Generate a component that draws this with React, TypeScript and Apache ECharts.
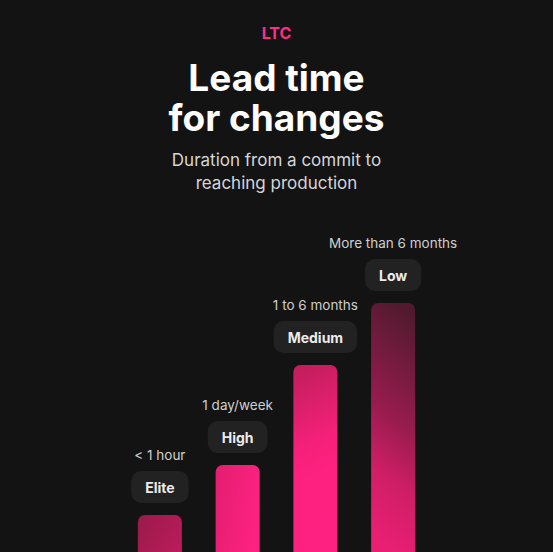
import React, { useEffect, useRef } from 'react';
import * as echarts from 'echarts';

const categories = ['Elite', 'High', 'Medium', 'Low'];
const durations = ['< 1 hour', '1 day/week', '1 to 6 months', 'More than 6 months'];
const values = [77, 127, 227, 289];

const FONT = 'Inter, "Noto Sans", sans-serif';

// per-bar shading, local to each bar's box (the bars run past the bottom edge)
const barShades = [
  new echarts.graphic.LinearGradient(0, 0, 1, 1, [
    { offset: 0, color: '#991a4b' },
    { offset: 0.75, color: '#bd1c5a' },
    { offset: 1, color: '#c41d5e' }
  ]),
  new echarts.graphic.LinearGradient(0, 0, 1, 0.4, [
    { offset: 0, color: '#e21e6f' },
    { offset: 1, color: '#ff2282' }
  ]),
  new echarts.graphic.LinearGradient(0.45, 0, 0.55, 1, [
    { offset: 0, color: '#c41e5e' },
    { offset: 0.33, color: '#f42079' },
    { offset: 0.5, color: '#ff2180' },
    { offset: 1, color: '#ff2182' }
  ]),
  new echarts.graphic.LinearGradient(0.56, 0, 0.44, 1, [
    { offset: 0, color: '#521a2f' },
    { offset: 0.4, color: '#981c4e' },
    { offset: 0.62, color: '#d01e66' },
    { offset: 0.85, color: '#e81f73' },
    { offset: 1, color: '#ec1f75' }
  ])
];

export default function App() {
  const ref = useRef<HTMLDivElement | null>(null);

  useEffect(() => {
    document.body.style.margin = '0';
    if (!ref.current) return;
    const chart = echarts.init(ref.current, undefined, { renderer: 'svg' });
    chart.setOption({
      animation: false,
      backgroundColor: '#131313',
      textStyle: { fontFamily: FONT },
      title: [
        {
          text: 'LTC', left: 'center', top: 19,
          textStyle: { color: '#ff2d88', fontSize: 16, fontWeight: 700, fontFamily: FONT, lineHeight: 18 }
        },
        {
          text: 'Lead time\nfor changes', left: 'center', top: 52,
          textStyle: { color: '#ffffff', fontSize: 37, fontWeight: 700, fontFamily: FONT, lineHeight: 40, align: 'center' }
        },
        {
          text: 'Duration from a commit to\nreaching production', left: 'center', top: 143,
          textStyle: { color: '#d6d6d6', fontSize: 17, fontWeight: 400, fontFamily: FONT, lineHeight: 23, align: 'center' }
        }
      ],
      grid: { left: 121, right: 121, top: 0, bottom: 0 },
      xAxis: {
        type: 'category', data: categories,
        axisLine: { show: false }, axisTick: { show: false }, axisLabel: { show: false }
      },
      yAxis: { type: 'value', min: 0, max: 592, show: false, splitLine: { show: false } },
      series: [
        {
          type: 'bar',
          data: values.map((v, i) => ({ value: v, itemStyle: { color: barShades[i] } })),
          barWidth: 44,
          itemStyle: { borderRadius: [7, 7, 0, 0] },
          label: {
            show: true,
            position: 'top',
            distance: 12,
            formatter: (p: any) => `{d|${durations[p.dataIndex]}}\n{c|${categories[p.dataIndex]}}`,
            rich: {
              d: { color: '#cfcfcf', fontSize: 13.5, fontFamily: FONT, lineHeight: 32, align: 'center' },
              c: {
                color: '#ececec', fontSize: 14, fontWeight: 700, fontFamily: FONT,
                backgroundColor: '#222222', borderRadius: 10, padding: [0, 14],
                height: 32, lineHeight: 32, align: 'center'
              }
            }
          }
        }
      ]
    });
    return () => { chart.dispose(); };
  }, []);

  return (
    <div style={{ width: 553, height: 552, overflow: 'hidden', position: 'relative' }}>
      <div ref={ref} style={{ width: 553, height: 592 }} />
    </div>
  );
}
